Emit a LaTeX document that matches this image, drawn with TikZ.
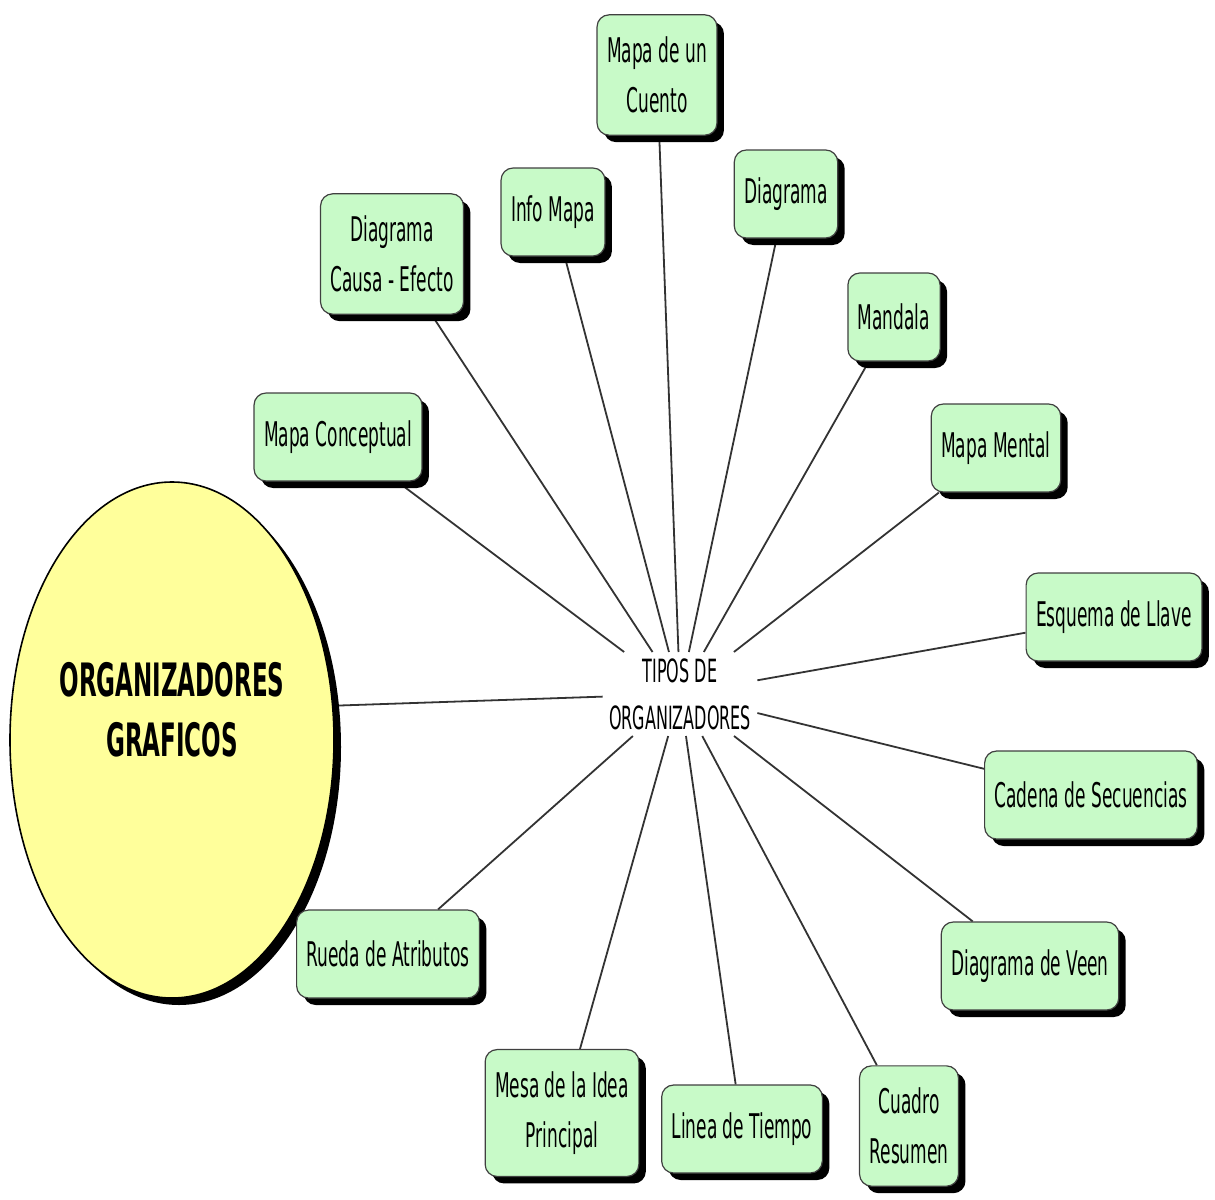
\documentclass[tikz,border=0pt]{standalone}
\usepackage{fontspec}
\setmainfont[FakeStretch=0.5]{DejaVu Sans}
\usetikzlibrary{shapes.geometric,shadows,backgrounds}

\definecolor{tipoGreen}{RGB}{200,250,200}
\definecolor{bigYellow}{RGB}{255,255,155}
\def \lineWidth {0.9pt}

\tikzset{
  tipo/.style={draw=black!75, line width=0.6pt, fill=tipoGreen, rounded corners=6pt,
    align=center, text=black, font=\fontsize{17}{25}\selectfont,
    inner xsep=5pt, inner ysep=11pt, minimum height=44pt,
    drop shadow={shadow xshift=3.5pt, shadow yshift=-3.5pt, fill=black, opacity=1}},
  big/.style={ellipse, draw=black, line width=0.8pt, fill=bigYellow,
    minimum width=162pt, minimum height=258pt,
    drop shadow={shadow xshift=3.5pt, shadow yshift=-3.5pt, fill=black, opacity=1}},
  bigtext/.style={align=center, font=\fontsize{23}{30}\selectfont\bfseries},
  link/.style={draw=black!80, line width=\lineWidth}
}

\begin{document}
\begin{tikzpicture}[x=0.5pt, y=-0.5pt]
  \useasboundingbox (0,0) rectangle (1215,1199);

  % main idea
  \node[big] (org) at (172,740) {};
  \node[bigtext] (orgtext) at (172,710) {ORGANIZADORES\\GRAFICOS};
  \node[align=center, font=\fontsize{16}{23.5}\selectfont, inner sep=3pt] (tipos) at (680,694) {TIPOS DE\\ORGANIZADORES};

  % types
  \node[tipo] (cuento) at (657,75) {Mapa de un\\Cuento};
  \node[tipo] (info) at (553,212) {Info Mapa};
  \node[tipo] (diagrama) at (786,194) {Diagrama};
  \node[tipo] (causa) at (392,254) {Diagrama\\Causa - Efecto};
  \node[tipo] (mandala) at (894,317) {Mandala};
  \node[tipo] (conceptual) at (338,437) {Mapa Conceptual};
  \node[tipo] (mental) at (996,448) {Mapa Mental};
  \node[tipo] (llave) at (1114,617) {Esquema de Llave};
  \node[tipo] (cadena) at (1091,795) {Cadena de Secuencias};
  \node[tipo] (veen) at (1030,966) {Diagrama de Veen};
  \node[tipo] (resumen) at (909,1126) {Cuadro\\Resumen};
  \node[tipo] (tiempo) at (742,1129) {Linea de Tiempo};
  \node[tipo] (mesa) at (562,1113) {Mesa de la Idea\\Principal};
  \node[tipo] (rueda) at (388,954) {Rueda de Atributos};

  % connectors
  \begin{scope}[on background layer]
    \draw[link] (org.12) -- (tipos);
    \foreach \t in {cuento,info,diagrama,causa,mandala,conceptual,mental,llave,cadena,veen,resumen,tiempo,mesa,rueda}
      \draw[link] (tipos) -- (\t);
  \end{scope}
\end{tikzpicture}
\end{document}
